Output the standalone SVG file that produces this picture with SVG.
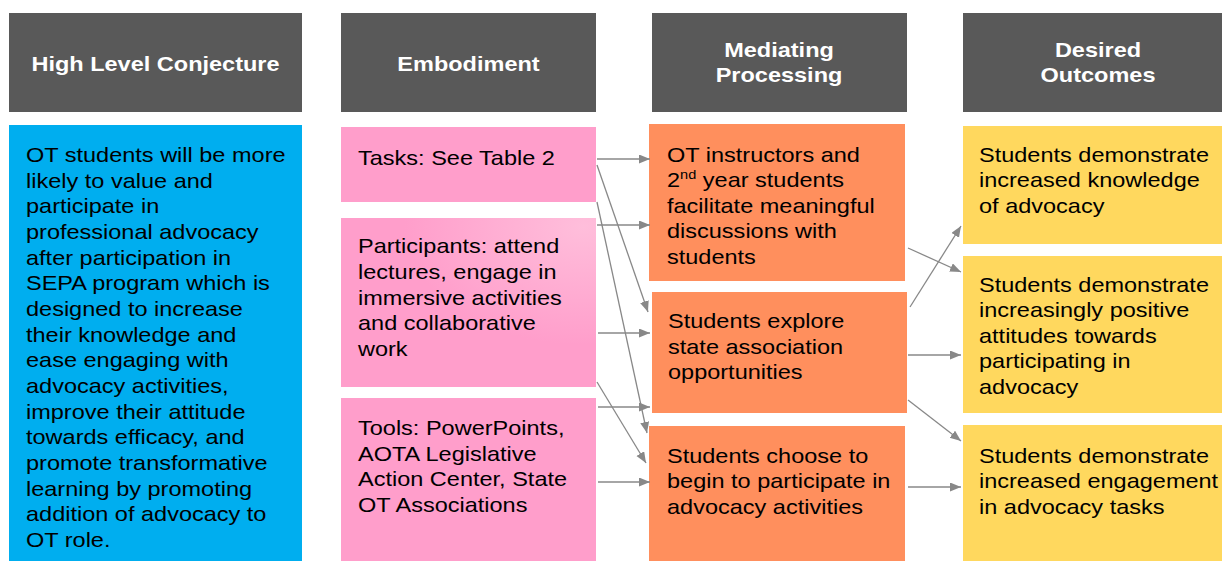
<svg xmlns="http://www.w3.org/2000/svg" width="1222" height="561" viewBox="0 0 1222 561">
<defs>
<marker id="ah" markerUnits="userSpaceOnUse" markerWidth="12" markerHeight="10" refX="11" refY="4.5" orient="auto">
<path d="M0,0 L11,4.5 L0,9 z" fill="#888"/>
</marker>
<radialGradient id="pg" cx="0.95" cy="0.05" r="0.7">
<stop offset="0" stop-color="#FFBEDB"/>
<stop offset="1" stop-color="#FF9ECB"/>
</radialGradient>
</defs>
<style>
.hd{fill:#595959}
.ht{font-family:"Liberation Sans",Arial,sans-serif;font-size:21px;font-weight:bold;fill:#fff;text-anchor:middle}
.bt{font-family:"Liberation Sans",Arial,sans-serif;font-size:21px;fill:#000}
.blue{fill:#00AEEF}
.pink{fill:#FF9ECB}
.orange{fill:#FF8F5D}
.yellow{fill:#FFD85E}
.cn{stroke:#888;stroke-width:1.3;fill:none;marker-end:url(#ah)}
</style>
<rect width="1222" height="561" fill="#fff"/>

<g id="h1"><rect class="hd" x="9" y="13" width="293" height="99"/>
<text class="ht" transform="translate(155.5 0) scale(1.12 1)"><tspan x="0" y="71">High Level Conjecture</tspan></text></g>
<g id="h2"><rect class="hd" x="341" y="13" width="255" height="99"/>
<text class="ht" transform="translate(468.5 0) scale(1.12 1)"><tspan x="0" y="71">Embodiment</tspan></text></g>
<g id="h3"><rect class="hd" x="652" y="13" width="255" height="99"/>
<text class="ht" transform="translate(779 0) scale(1.12 1)"><tspan x="0" y="57">Mediating</tspan><tspan x="0" y="82">Processing</tspan></text></g>
<g id="h4"><rect class="hd" x="963" y="13" width="270" height="99"/>
<text class="ht" transform="translate(1098 0) scale(1.12 1)"><tspan x="0" y="57">Desired</tspan><tspan x="0" y="82">Outcomes</tspan></text></g>

<g id="conjecture"><rect class="blue" x="9" y="125" width="293" height="440"/>
<text class="bt" transform="translate(26 0) scale(1.12 1)">
<tspan x="0" y="162">OT students will be more</tspan>
<tspan x="0" y="187.7">likely to value and</tspan>
<tspan x="0" y="213.3">participate in</tspan>
<tspan x="0" y="239">professional advocacy</tspan>
<tspan x="0" y="264.7">after participation in</tspan>
<tspan x="0" y="290.3">SEPA program which is</tspan>
<tspan x="0" y="316">designed to increase</tspan>
<tspan x="0" y="341.7">their knowledge and</tspan>
<tspan x="0" y="367.4">ease engaging with</tspan>
<tspan x="0" y="393">advocacy activities,</tspan>
<tspan x="0" y="418.7">improve their attitude</tspan>
<tspan x="0" y="444.4">towards efficacy, and</tspan>
<tspan x="0" y="470">promote transformative</tspan>
<tspan x="0" y="495.7">learning by promoting</tspan>
<tspan x="0" y="521.4">addition of advocacy to</tspan>
<tspan x="0" y="547">OT role.</tspan>
</text></g>

<g id="tasks"><rect class="pink" x="341" y="127" width="255" height="75"/>
<text class="bt" transform="translate(358 0) scale(1.12 1)"><tspan x="0" y="165">Tasks: See Table 2</tspan></text></g>
<g id="participants"><rect fill="url(#pg)" x="341" y="218" width="255" height="169"/>
<text class="bt" transform="translate(358 0) scale(1.12 1)">
<tspan x="0" y="253.5">Participants: attend</tspan>
<tspan x="0" y="279">lectures, engage in</tspan>
<tspan x="0" y="304.7">immersive activities</tspan>
<tspan x="0" y="330.3">and collaborative</tspan>
<tspan x="0" y="356">work</tspan>
</text></g>
<g id="tools"><rect class="pink" x="341" y="398" width="255" height="167"/>
<text class="bt" transform="translate(358 0) scale(1.12 1)">
<tspan x="0" y="435">Tools: PowerPoints,</tspan>
<tspan x="0" y="460.7">AOTA Legislative</tspan>
<tspan x="0" y="486.3">Action Center, State</tspan>
<tspan x="0" y="512">OT Associations</tspan>
</text></g>

<g id="facilitate"><rect class="orange" x="649" y="124" width="256" height="157"/>
<text class="bt" transform="translate(667 0) scale(1.12 1)">
<tspan x="0" y="162">OT instructors and</tspan>
<tspan x="0" y="187.5">2</tspan><tspan dy="-8" font-size="13">nd</tspan><tspan dy="8"> year students</tspan>
<tspan x="0" y="213">facilitate meaningful</tspan>
<tspan x="0" y="238.5">discussions with</tspan>
<tspan x="0" y="264">students</tspan>
</text></g>
<g id="explore"><rect class="orange" x="652" y="292" width="255" height="121"/>
<text class="bt" transform="translate(668 0) scale(1.12 1)">
<tspan x="0" y="328.5">Students explore</tspan>
<tspan x="0" y="354">state association</tspan>
<tspan x="0" y="379.5">opportunities</tspan>
</text></g>
<g id="choose"><rect class="orange" x="649" y="426" width="256" height="139"/>
<text class="bt" transform="translate(667 0) scale(1.12 1)">
<tspan x="0" y="463">Students choose to</tspan>
<tspan x="0" y="488.5">begin to participate in</tspan>
<tspan x="0" y="514">advocacy activities</tspan>
</text></g>

<g id="knowledge"><rect class="yellow" x="963" y="126" width="270" height="118"/>
<text class="bt" transform="translate(979 0) scale(1.12 1)">
<tspan x="0" y="162">Students demonstrate</tspan>
<tspan x="0" y="187.5">increased knowledge</tspan>
<tspan x="0" y="213">of advocacy</tspan>
</text></g>
<g id="attitudes"><rect class="yellow" x="963" y="256" width="270" height="157"/>
<text class="bt" transform="translate(979 0) scale(1.12 1)">
<tspan x="0" y="292">Students demonstrate</tspan>
<tspan x="0" y="317.5">increasingly positive</tspan>
<tspan x="0" y="343">attitudes towards</tspan>
<tspan x="0" y="368.5">participating in</tspan>
<tspan x="0" y="394">advocacy</tspan>
</text></g>
<g id="engagement"><rect class="yellow" x="963" y="425" width="270" height="140"/>
<text class="bt" transform="translate(979 0) scale(1.12 1)">
<tspan x="0" y="463">Students demonstrate</tspan>
<tspan x="0" y="488.5">increased engagement</tspan>
<tspan x="0" y="514">in advocacy tasks</tspan>
</text></g>

<g id="connectors">
<line class="cn" x1="597" y1="159" x2="650" y2="159"/>
<line class="cn" x1="597" y1="225" x2="650" y2="225"/>
<line class="cn" x1="597" y1="165" x2="648" y2="312"/>
<line class="cn" x1="597" y1="202" x2="647" y2="433"/>
<line class="cn" x1="598" y1="333" x2="650" y2="333"/>
<line class="cn" x1="597" y1="382" x2="646" y2="463"/>
<line class="cn" x1="598" y1="407" x2="650" y2="407"/>
<line class="cn" x1="598" y1="482" x2="650" y2="482"/>
<line class="cn" x1="908" y1="248" x2="961" y2="272"/>
<line class="cn" x1="910" y1="307" x2="961" y2="226"/>
<line class="cn" x1="908" y1="355" x2="961" y2="355"/>
<line class="cn" x1="908" y1="400" x2="961" y2="441"/>
<line class="cn" x1="908" y1="487" x2="961" y2="487"/>
</g>
</svg>
